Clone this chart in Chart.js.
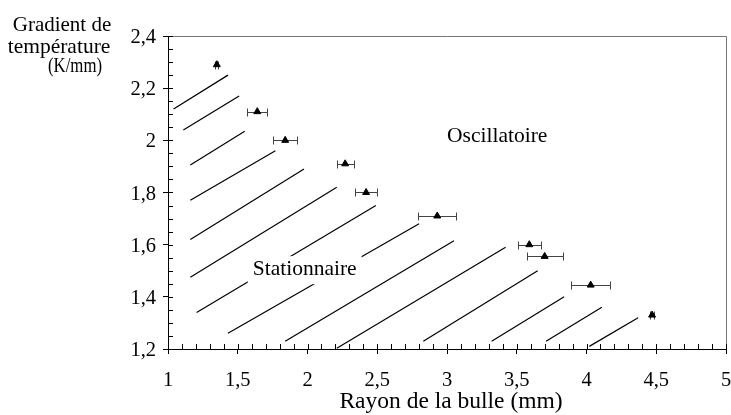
<!DOCTYPE html>
<html><head><meta charset="utf-8">
<script src="https://cdn.jsdelivr.net/npm/chart.js@4.4.1/dist/chart.umd.min.js"></script>
<style>html,body{margin:0;padding:0;background:#fff}#wrap{width:731px;height:415px;position:relative}</style>
</head><body><div id="wrap"><canvas id="c"></canvas></div>
<script>
// Measured points: bubble radius (mm), temperature gradient (K/mm), radius uncertainty (mm)
const radius   = [1.35, 1.64, 1.84, 2.27, 2.42, 2.93, 3.59, 3.70, 4.03, 4.47];
const gradient = [2.29, 2.11, 2.00, 1.91, 1.80, 1.71, 1.60, 1.555, 1.445, 1.33];
const radiusErr = [0.012, 0.072, 0.088, 0.06, 0.079, 0.136, 0.084, 0.13, 0.141, 0.012];

// Hatching of the "Stationnaire" region (segment end points, data units)
const hatchX1 = [1.04, 1.11, 1.16, 1.16, 1.16, 1.16, 1.205, 1.43, 1.84, 2.21, 2.83, 3.32, 3.71, 4.02];
const hatchY1 = [2.12, 2.04, 1.905, 1.77, 1.62, 1.475, 1.34, 1.26, 1.23, 1.203, 1.23, 1.23, 1.23, 1.21];
const hatchX2 = [1.43, 1.51, 1.55, 1.77, 1.975, 2.21, 2.49, 2.80, 3.05, 3.42, 3.65, 3.84, 4.11, 4.37];
const hatchY2 = [2.25, 2.17, 2.035, 1.96, 1.89, 1.82, 1.75, 1.68, 1.615, 1.59, 1.50, 1.40, 1.36, 1.32];

// Axes
const xTickValues = [1, 1.5, 2, 2.5, 3, 3.5, 4, 4.5, 5];
const xTickLabels = ['1', '1,5', '2', '2,5', '3', '3,5', '4', '4,5', '5'];
const yTickValues = [1.2, 1.4, 1.6, 1.8, 2.0, 2.2, 2.4];
const yTickLabels = ['1,2', '1,4', '1,6', '1,8', '2', '2,2', '2,4'];
const xTitle = 'Rayon de la bulle (mm)';
const yTitleLines = ['Gradient de', 'température', '(K/mm)'];
const regionLabels = ['Oscillatoire', 'Stationnaire'];
const regionLabelX = [3.36, 1.98];
const regionLabelY = [2.02, 1.51];

const FONT = '"Liberation Serif", "Times New Roman", serif';

function drawText(ctx, txt, x, y, size, align, sx) {
  ctx.save();
  ctx.font = size + 'px ' + FONT;
  ctx.textBaseline = 'alphabetic';
  ctx.textAlign = align || 'center';
  ctx.translate(x, y);
  ctx.scale(sx || 1, 1);
  ctx.fillStyle = '#000';
  ctx.fillText(txt, 0, 0);
  ctx.restore();
}

const hatchDatasets = hatchX1.map((x1, i) => ({
  type: 'line',
  data: [{x: x1, y: hatchY1[i]}, {x: hatchX2[i], y: hatchY2[i]}],
  borderColor: '#000', borderWidth: 1.2, pointRadius: 0, showLine: true, fill: false
}));

const pointsDataset = {
  type: 'scatter',
  data: radius.map((r, i) => ({x: r, y: gradient[i]})),
  pointStyle: 'triangle', radius: 4, backgroundColor: '#000', borderColor: '#000', borderWidth: 1
};

const deco = {
  id: 'deco',
  beforeDatasetsDraw(chart) {
    const ctx = chart.ctx, xs = chart.scales.x, ys = chart.scales.y;
    ctx.save();
    ctx.strokeStyle = '#444';
    ctx.lineWidth = 1;
    radius.forEach((r, i) => {
      const y = Math.round(ys.getPixelForValue(gradient[i])) + 0.5;
      const xa = Math.round(xs.getPixelForValue(r - radiusErr[i])) + 0.5;
      const xb = Math.round(xs.getPixelForValue(r + radiusErr[i])) + 0.5;
      ctx.beginPath();
      ctx.moveTo(xa, y); ctx.lineTo(xb, y);
      ctx.moveTo(xa, y - 4); ctx.lineTo(xa, y + 4);
      ctx.moveTo(xb, y - 4); ctx.lineTo(xb, y + 4);
      ctx.stroke();
    });
    ctx.restore();
  },
  afterDatasetsDraw(chart) {
    const ctx = chart.ctx, xs = chart.scales.x, ys = chart.scales.y;
    const size = 21.5;
    regionLabels.forEach((t, i) => {
      const cx = xs.getPixelForValue(regionLabelX[i]);
      const cy = ys.getPixelForValue(regionLabelY[i]);
      const base = cy + 7;
      ctx.save();
      ctx.font = size + 'px ' + FONT;
      const w = ctx.measureText(t).width;
      if (i === 1) {
        ctx.fillStyle = '#fff';
        ctx.fillRect(cx - w / 2 - 5, base - 19, w + 10, 28);
      }
      ctx.restore();
      drawText(ctx, t, cx, base, size, 'center');
    });
  },
  afterDraw(chart) {
    const ctx = chart.ctx, xs = chart.scales.x, ys = chart.scales.y, a = chart.chartArea;
    ctx.save();
    // top and right frame
    ctx.strokeStyle = '#777';
    ctx.lineWidth = 1;
    ctx.beginPath();
    ctx.moveTo(a.left, a.top + 0.5); ctx.lineTo(a.right + 0.5, a.top + 0.5);
    ctx.lineTo(a.right + 0.5, a.bottom);
    ctx.stroke();
    // inner ticks (minor + inner half of major)
    ctx.strokeStyle = '#000';
    ctx.beginPath();
    for (let k = 10; k <= 50; k++) {
      const x = Math.round(xs.getPixelForValue(k / 10)) + 0.5;
      ctx.moveTo(x, a.bottom); ctx.lineTo(x, a.bottom - 5);
    }
    for (let k = 24; k <= 48; k++) {
      const y = Math.round(ys.getPixelForValue(k / 20)) + 0.5;
      ctx.moveTo(a.left, y); ctx.lineTo(a.left + 5, y);
    }
    ctx.stroke();
    ctx.restore();
    // tick labels
    xTickValues.forEach((v, i) => drawText(ctx, xTickLabels[i], xs.getPixelForValue(v), 386, 20.5, 'center'));
    yTickValues.forEach((v, i) => drawText(ctx, yTickLabels[i], 156, ys.getPixelForValue(v) + 7, 20.5, 'right'));
    // titles
    drawText(ctx, xTitle, 451, 408, 23.5, 'center');
    drawText(ctx, yTitleLines[0], 62, 31, 21, 'center');
    drawText(ctx, yTitleLines[1], 59, 53, 21.5, 'center');
    drawText(ctx, yTitleLines[2], 75, 72, 21.5, 'center', 0.78);
  }
};

new Chart(document.getElementById('c'), {
  type: 'scatter',
  data: { datasets: [...hatchDatasets, pointsDataset] },
  options: {
    responsive: true, maintainAspectRatio: false, animation: false,
    layout: { padding: { top: 36, right: 4, left: 0, bottom: 0 } },
    plugins: { legend: { display: false }, tooltip: { enabled: false } },
    scales: {
      x: {
        type: 'linear', min: 1, max: 5,
        ticks: { display: false, stepSize: 0.5 },
        grid: { display: true, drawOnChartArea: false, drawTicks: true, tickLength: 5, color: '#000' },
        border: { display: true, color: '#000', width: 1 },
        afterFit(s) { s.height = 66; }
      },
      y: {
        type: 'linear', min: 1.2, max: 2.4,
        ticks: { display: false, stepSize: 0.2 },
        grid: { display: true, drawOnChartArea: false, drawTicks: true, tickLength: 5, color: '#000' },
        border: { display: true, color: '#000', width: 1 },
        afterFit(s) { s.width = 168; }
      }
    }
  },
  plugins: [deco]
});
</script>
</body></html>
